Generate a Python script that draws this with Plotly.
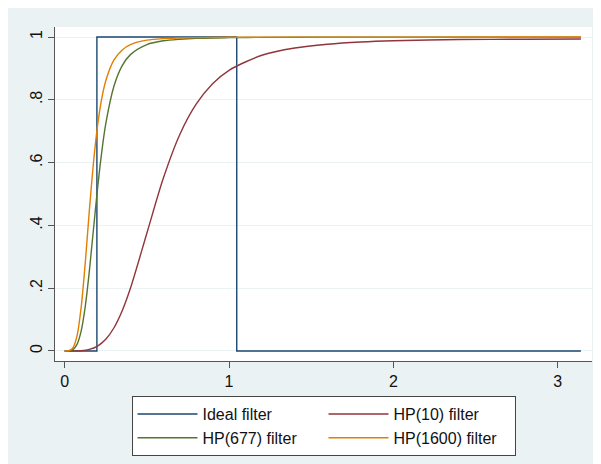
import plotly.graph_objects as go

# Ideal band-pass (business-cycle) filter gain
ideal_x = [0.0, 0.196, 0.196, 1.047, 1.047, 3.1416]
ideal_y = [0.0, 0.0, 1.0, 1.0, 0.0, 0.0]

# HP(10) filter gain
hp10_x = [0.0, 0.05, 0.1, 0.15, 0.2, 0.25, 0.3, 0.35, 0.4, 0.5, 0.6, 0.7, 0.8, 0.9, 1.0,
          1.2, 1.4, 1.6, 1.8, 2.0, 2.4, 2.8, 3.1416]
hp10_y = [0.0, 0.0001, 0.001, 0.005, 0.0156, 0.0372, 0.0739, 0.128, 0.1995, 0.375, 0.55,
          0.689, 0.786, 0.851, 0.894, 0.942, 0.965, 0.977, 0.984, 0.988, 0.992, 0.993, 0.994]

# HP(677) filter gain
hp677_x = [0.0, 0.025, 0.05, 0.075, 0.1, 0.125, 0.15, 0.175, 0.2, 0.225, 0.25, 0.3, 0.35,
           0.4, 0.5, 0.6, 0.7, 0.8, 1.0, 1.2, 1.6, 2.0, 2.4, 3.1416]
hp677_y = [0.0, 0.0003, 0.0042, 0.021, 0.0633, 0.1415, 0.2545, 0.387, 0.518, 0.632, 0.724,
           0.844, 0.909, 0.944, 0.976, 0.988, 0.993, 0.996, 0.998, 0.999, 0.9997, 0.9998,
           0.9999, 0.9999]

# HP(1600) filter gain
hp1600_x = [0.0, 0.025, 0.05, 0.075, 0.1, 0.125, 0.15, 0.175, 0.2, 0.225, 0.25, 0.3, 0.35,
            0.4, 0.5, 0.6, 0.7, 0.8, 1.0, 1.2, 1.6, 2.0, 3.1416]
hp1600_y = [0.0, 0.0006, 0.0099, 0.048, 0.138, 0.280, 0.447, 0.599, 0.718, 0.803, 0.861,
            0.927, 0.959, 0.976, 0.990, 0.995, 0.997, 0.998, 0.9993, 0.9996, 0.9999,
            0.9999, 1.0]

y_ticks = [0, 0.2, 0.4, 0.6, 0.8, 1]
y_labels = ["0", ".2", ".4", ".6", ".8", "1"]
x_ticks = [0, 1, 2, 3]

fig = go.Figure()
fig.add_trace(go.Scatter(x=ideal_x, y=ideal_y, mode="lines", name="Ideal filter",
                         line=dict(color="#1a476f", width=1.4)))
fig.add_trace(go.Scatter(x=hp10_x, y=hp10_y, mode="lines", name="HP(10) filter",
                         line=dict(color="#90353b", width=1.4, shape="spline", smoothing=0.8)))
fig.add_trace(go.Scatter(x=hp677_x, y=hp677_y, mode="lines", name="HP(677) filter",
                         line=dict(color="#55752f", width=1.4, shape="spline", smoothing=0.8)))
fig.add_trace(go.Scatter(x=hp1600_x, y=hp1600_y, mode="lines", name="HP(1600) filter",
                         line=dict(color="#e37e00", width=1.4, shape="spline", smoothing=0.8)))

fig.update_layout(
    width=593, height=456,
    margin=dict(l=47, r=9, t=19, b=103, autoexpand=False),
    paper_bgcolor="#eaf2f3", plot_bgcolor="white",
    font=dict(family="Liberation Sans, Arial, sans-serif", size=16, color="#111111"),
    showlegend=True,
    legend=dict(orientation="h", x=0.5, xanchor="center", y=-0.105, yanchor="top",
                bgcolor="white", bordercolor="#444444", borderwidth=1,
                entrywidth=116, entrywidthmode="pixels", itemwidth=60,
                font=dict(size=16, color="#111111"),
                tracegroupgap=0),
)
fig.update_xaxes(range=[-0.059, 3.209], tickvals=x_ticks, ticks="outside", ticklen=6,
                 tickcolor="#555555", showline=True, linecolor="#555555", linewidth=1,
                 showgrid=False, zeroline=False, automargin=False)
fig.update_yaxes(range=[-0.032, 1.032], tickvals=y_ticks, ticktext=y_labels, tickangle=-90,
                 ticks="outside", ticklen=6, tickcolor="#555555", showline=True,
                 linecolor="#555555", linewidth=1, showgrid=True, gridcolor="#eaf2f3",
                 gridwidth=1, zeroline=False, automargin=False)

fig.write_html("out.html")
